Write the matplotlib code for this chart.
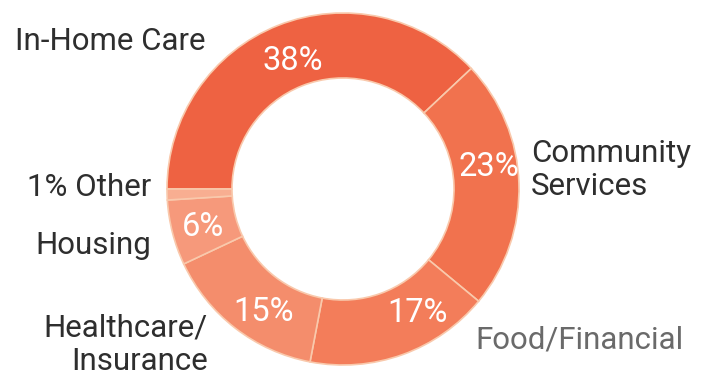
import matplotlib.pyplot as plt

names = ['In-Home Care', 'Community Services', 'Food/Financial',
         'Healthcare/Insurance', 'Housing', 'Other']
shares = [38, 23, 17, 15, 6, 1]
colors = ['#EE6242', '#F1724E', '#F37D5A', '#F48D6C', '#F6997B', '#F8AE91']

plt.rcParams['font.family'] = ['Roboto', 'DejaVu Sans']

fig = plt.figure(figsize=(7.04, 3.83), dpi=100)
ax = fig.add_axes([0, 0, 1, 1])

ax.pie(shares, colors=colors, startangle=180, counterclock=False,
       center=(343, -189), radius=176,
       wedgeprops=dict(width=65, edgecolor='#F9C9AC', linewidth=1.2))
ax.set_xlim(0, 704)
ax.set_ylim(-383, 0)
ax.set_aspect('equal')
ax.axis('off')

dark = '#2E2E2E'
fs = 22.5
# category labels
ax.text(15, -41, names[0], fontsize=fs, color=dark, ha='left', va='center')
ax.text(531, -170, 'Community\nServices', fontsize=fs, color=dark, ha='left',
        va='center', linespacing=1.2)
ax.text(475, -340, names[2], fontsize=fs, color='#6A6A6A', ha='left', va='center')
ax.text(208, -345, 'Healthcare/\nInsurance', fontsize=fs, color=dark, ha='right',
        va='center', linespacing=1.2)
ax.text(151, -188, f'{shares[5]}% {names[5]}', fontsize=fs, color=dark,
        ha='right', va='center')
ax.text(151, -245, names[4], fontsize=fs, color=dark, ha='right', va='center')

# percent labels on the ring
pct_pos = [(293, -61), (489, -167), (418, -313), (264, -312), (203, -227)]
for (x, y), v in zip(pct_pos, shares[:5]):
    ax.text(x, y, f'{v}%', fontsize=23.5, color='white', ha='center', va='center')

fig.savefig('out.png', dpi=100)
